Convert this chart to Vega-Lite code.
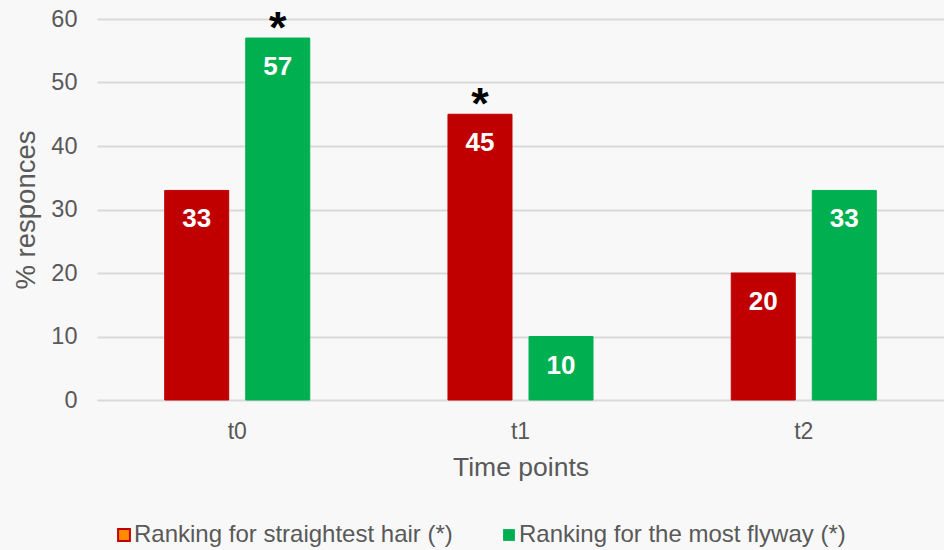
{
  "$schema": "https://vega.github.io/schema/vega-lite/v6.json",
  "width": 847,
  "height": 381,
  "autosize": {"type": "none"},
  "padding": {"left": 97, "top": 19, "right": 0, "bottom": 150},
  "background": "#F8F8F8",
  "config": {
    "font": "Liberation Sans",
    "view": {"stroke": null},
    "axis": {"labelColor": "#595959", "titleColor": "#595959", "titleFontWeight": "normal"},
    "legend": {
      "orient": "none",
      "direction": "horizontal",
      "padding": 0,
      "symbolType": "square",
      "symbolSize": 140,
      "symbolOpacity": 1,
      "labelFontSize": 24,
      "labelLimit": 0,
      "labelColor": "#595959",
      "labelOffset": -2
    }
  },
  "data": {
    "values": [
      {"time": "t0", "series": "Ranking for straightest hair (*)", "pct": 33, "mark": ""},
      {"time": "t0", "series": "Ranking for the most flyway (*)", "pct": 57, "mark": "*"},
      {"time": "t1", "series": "Ranking for straightest hair (*)", "pct": 45, "mark": "*"},
      {"time": "t1", "series": "Ranking for the most flyway (*)", "pct": 10, "mark": ""},
      {"time": "t2", "series": "Ranking for straightest hair (*)", "pct": 20, "mark": ""},
      {"time": "t2", "series": "Ranking for the most flyway (*)", "pct": 33, "mark": ""}
    ]
  },
  "encoding": {
    "x": {
      "field": "time",
      "type": "nominal",
      "scale": {"paddingInner": 0.488, "paddingOuter": 0.239},
      "axis": {
        "title": "Time points",
        "labelAngle": 0,
        "labelFontSize": 23,
        "labelPadding": 20,
        "titleFontSize": 26.5,
        "titlePadding": 11,
        "domain": false,
        "ticks": false
      }
    },
    "xOffset": {
      "field": "series",
      "type": "nominal",
      "scale": {
        "domain": ["Ranking for straightest hair (*)", "Ranking for the most flyway (*)"],
        "paddingInner": 0.21
      }
    },
    "y": {
      "field": "pct",
      "type": "quantitative",
      "scale": {"domain": [0, 60]},
      "axis": {
        "title": "% responces",
        "values": [0, 10, 20, 30, 40, 50, 60],
        "labelFontSize": 23.5,
        "labelPadding": 20,
        "titleFontSize": 27.5,
        "titlePadding": 10,
        "domain": false,
        "ticks": false,
        "gridColor": "#D9D9D9",
        "gridWidth": 1.8
      }
    }
  },
  "layer": [
    {
      "mark": {"type": "bar", "strokeWidth": 1},
      "encoding": {
        "color": {
          "field": "series",
          "type": "nominal",
          "scale": {
            "domain": ["Ranking for straightest hair (*)", "Ranking for the most flyway (*)"],
            "range": ["#C00000", "#00B050"]
          },
          "legend": {
            "title": null,
            "values": ["Ranking for the most flyway (*)"],
            "legendX": 400,
            "legendY": 504
          }
        },
        "stroke": {
          "field": "series",
          "type": "nominal",
          "scale": {
            "domain": ["Ranking for the most flyway (*)", "Ranking for straightest hair (*)"],
            "range": ["#00B050", "#C00000"]
          },
          "legend": {
            "title": null,
            "values": ["Ranking for straightest hair (*)"],
            "legendX": 15,
            "legendY": 504,
            "symbolFillColor": "#FF8C00",
            "symbolStrokeWidth": 2
          }
        }
      }
    },
    {
      "mark": {"type": "text", "color": "#FFFFFF", "fontWeight": "bold", "fontSize": 26, "baseline": "alphabetic", "dy": 37},
      "encoding": {"text": {"field": "pct", "type": "quantitative"}}
    },
    {
      "mark": {"type": "text", "color": "#000000", "fontWeight": "bold", "fontSize": 45, "baseline": "alphabetic", "dy": 5},
      "encoding": {"text": {"field": "mark", "type": "nominal"}}
    }
  ]
}
